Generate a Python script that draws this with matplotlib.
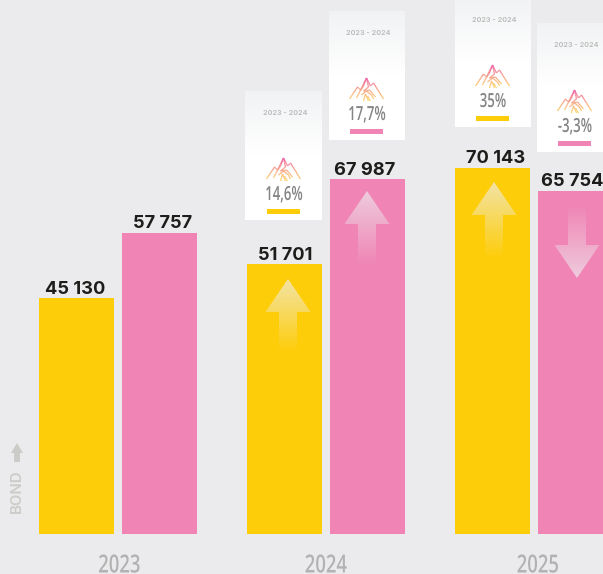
import numpy as np
import matplotlib
matplotlib.use('Agg')
import matplotlib.pyplot as plt
from matplotlib.patches import Polygon, Rectangle
from matplotlib.collections import LineCollection
from matplotlib.colors import to_rgb
from matplotlib.patheffects import AbstractPathEffect
from matplotlib.transforms import Affine2D

years = ['2023', '2024', '2025']
bar_values = [45130, 57757, 51701, 67987, 70143, 65754]
bar_labels = ['45 130', '57 757', '51 701', '67 987', '70 143', '65 754']
bar_colors = ['#fecd0a', '#f084b5', '#fecd0a', '#f084b5', '#fecd0a', '#f084b5']
card_percent = ['14,6%', '17,7%', '35%', '-3,3%']
card_period = ['2023 - 2024', '2023 - 2024', '2023 - 2024', '2023 - 2024']

W, H = 603, 574
BASE = 534
SCALE = 0.00522
BG = '#ebebed'

bar_x = [39, 122, 247, 330, 455, 538]
label_x = [75.5, 163, 285, 365, 495.5, 572]
year_x = [119.5, 326, 538]
# left, right, top of the white cards, centre of their content
cards = [(245, 322, 91, 283.5), (329, 405, 11, 366.5), (455, 531, -2, 492.5), (537, 603, 23, 574.5)]
card_bar = ['#fecd0a', '#f084b5', '#fecd0a', '#f084b5']
# tip x, tip y, direction, shaft end y
arrows = [(288, 279, 1, 352), (367, 191, 1, 266), (494, 182, 1, 258), (577, 278, -1, 204)]


class Squeeze(AbstractPathEffect):
    # condensed look: no condensed font is installed, so narrow the text around its centre
    def __init__(self, sx):
        super().__init__()
        self.sx = sx

    def draw_path(self, renderer, gc, tpath, affine, rgbFace=None):
        c = tpath.get_extents().x0 + tpath.get_extents().width / 2
        squeeze = Affine2D().translate(-c, 0).scale(self.sx, 1).translate(c, 0)
        renderer.draw_path(gc, tpath, squeeze + affine, rgbFace)


fig = plt.figure(figsize=(W / 100, H / 100), dpi=100, facecolor=BG)
ax = fig.add_axes([0, 0, 1, 1], facecolor=BG)
ax.set_xlim(0, W)
ax.set_ylim(-(H - BASE) / SCALE, BASE / SCALE)
ax.axis('off')
ax.bar(bar_x, bar_values, width=75, align='edge', color=bar_colors, zorder=1)

# overlay in pixel coordinates for the decorations
ov = fig.add_axes([0, 0, 1, 1], facecolor='none')
ov.set_xlim(0, W)
ov.set_ylim(H, 0)
ov.axis('off')


def gradient_patch(poly, top, bottom, y0, y1, zorder=3):
    # vertical RGBA gradient clipped to a polygon
    n = 64
    img = np.zeros((n, 2, 4))
    t = np.linspace(0, 1, n)
    for i in range(4):
        img[:, :, i] = (top[i] + (bottom[i] - top[i]) * t)[:, None]
    xs = [p[0] for p in poly]
    im = ov.imshow(img, extent=[min(xs), max(xs), y1, y0], aspect='auto', zorder=zorder, interpolation='bilinear')
    patch = Polygon(poly, closed=True, transform=ov.transData, facecolor='none', edgecolor='none')
    ov.add_patch(patch)
    im.set_clip_path(patch)


def draw_mountain(cx, top):
    lines = [
        [(-17, 21), (-9, 9), (-6, 12), (0, 0), (4, 8), (7, 5), (17, 21)],
        [(0, 0), (-3, 8), (-7, 14), (-10, 20)],
        [(0, 0), (2, 9), (-3, 13), (3, 12), (9, 19)],
        [(-5, 17), (0, 13), (5, 17), (7, 21)],
        [(-3, 23), (-1, 16), (2, 23)],
        [(1, 18), (4, 23)],
    ]
    pink = np.array(to_rgb('#f05fa8'))
    yellow = np.array(to_rgb('#ffd05c'))
    segs, cols = [], []
    for line in lines:
        for a, b in zip(line[:-1], line[1:]):
            for s in range(4):
                p0 = (a[0] + (b[0] - a[0]) * s / 4, a[1] + (b[1] - a[1]) * s / 4)
                p1 = (a[0] + (b[0] - a[0]) * (s + 1) / 4, a[1] + (b[1] - a[1]) * (s + 1) / 4)
                segs.append([(cx + p0[0], top + p0[1]), (cx + p1[0], top + p1[1])])
                f = min((p0[1] + p1[1]) / 2 / 22, 1)
                cols.append(tuple(pink + (yellow - pink) * f) + (0.9,))
    ov.add_collection(LineCollection(segs, colors=cols, linewidths=0.9, zorder=5))


# white cards
for i, (x0, x1, top, cx) in enumerate(cards):
    bottom = top + 129
    card = [(x0, top), (x1, top), (x1, bottom), (x0, bottom)]
    gradient_patch(card, (0.945, 0.95, 0.955, 1), (1, 1, 1, 1), top, top + 65, zorder=2)
    ov.add_patch(Rectangle((x0, top + 64), x1 - x0, 65, facecolor='white', edgecolor='none', zorder=2))
    ov.text(cx + 1.5, top + 22, card_period[i], ha='center', va='center', fontsize=5.2, color='#b9b9b9',
            fontweight='semibold', family='Inter', zorder=5)
    draw_mountain(cx, top + 67)
    ov.text(cx + 0.5, top + 109, card_percent[i], ha='center', va='baseline', fontsize=14, color='#858585',
            family='Open Sans', fontweight='semibold', zorder=5, path_effects=[Squeeze(0.68)])
    ov.add_patch(Rectangle((cx - 16.5, top + 118), 33, 5, facecolor=card_bar[i], edgecolor='none', zorder=5))

# arrows that fade along the shaft
for tx, ty, d, end in arrows:
    base = ty + 33 * d
    poly = [(tx, ty), (tx + 22.5, base), (tx + 9, base), (tx + 9, end), (tx - 9, end), (tx - 9, base), (tx - 22.5, base)]
    strong = (0.93, 0.93, 0.94, 0.68)
    clear = (0.93, 0.93, 0.94, 0.0)
    if d > 0:
        gradient_patch(poly, strong, clear, ty, end)
    else:
        gradient_patch(poly, clear, strong, end, ty)

# value labels
for x, y, lab in zip(label_x, bar_values, bar_labels):
    ax.text(x, y + 0.6 / SCALE, lab, ha='center', va='bottom', fontsize=13.2, fontweight='bold',
            family='Inter', color='#1d1d1b', zorder=6)

# year labels
for x, lab in zip(year_x, years):
    ov.text(x, 572.5, lab, ha='center', va='baseline', fontsize=18, color='#b2b2b2', family='Open Sans',
            fontweight='semibold', path_effects=[Squeeze(0.74)])

# BOND marker
ov.text(17, 491, 'BOND', rotation=90, ha='center', va='center', fontsize=10.8, color='#cbcbc7',
        family='Inter', fontweight='semibold')
ov.add_patch(Polygon([(17, 443), (23, 453), (20, 453), (20, 462), (14, 462), (14, 453), (11, 453)],
                     closed=True, facecolor='#cbcbc7', edgecolor='none'))
ov.set_xlim(0, W)
ov.set_ylim(H, 0)

fig.savefig('out.png', dpi=100, facecolor=BG)
